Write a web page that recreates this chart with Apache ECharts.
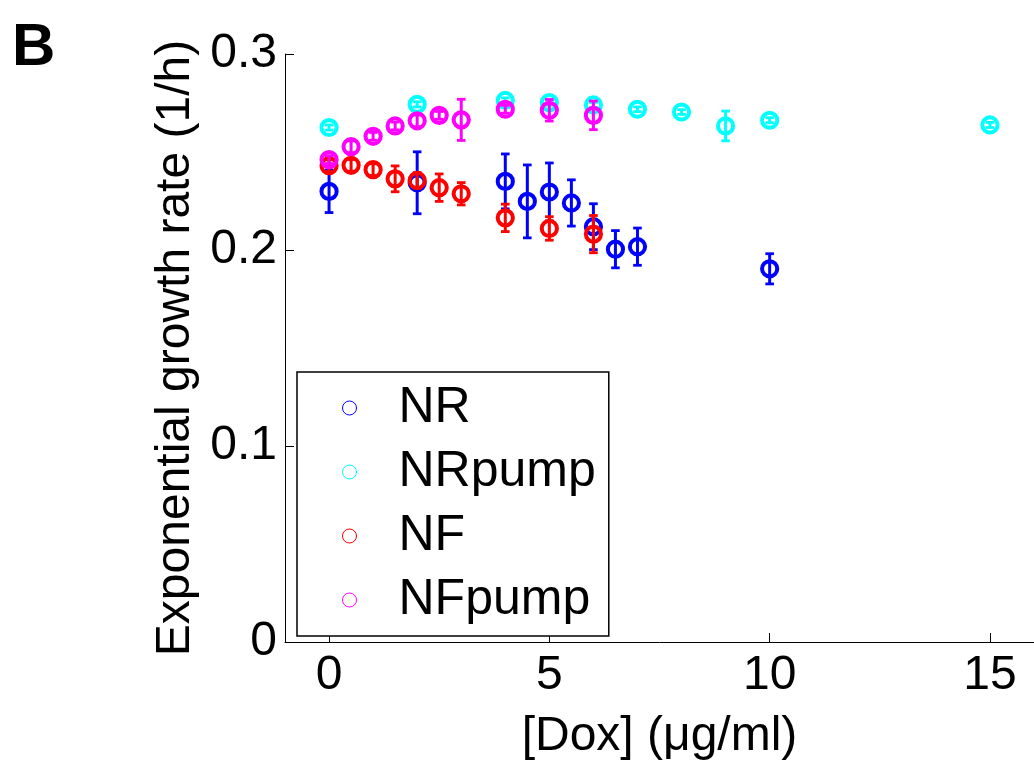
<!DOCTYPE html>
<html>
<head>
<meta charset="utf-8">
<script src="https://cdn.jsdelivr.net/npm/echarts@6/dist/echarts.min.js"></script>
<style>html,body{margin:0;padding:0;background:#fff}#c{width:1034px;height:766px}</style>
</head>
<body>
<div id="c"></div>
<script>
// ---- data: [dox, growth rate, error] ----
const seriesNames = ['NR', 'NRpump', 'NF', 'NFpump'];
const seriesColors = ['#0000ff', '#00ffff', '#ff0000', '#ff00ff'];

const NR_x   = [0, 2, 4, 4.5, 5, 5.5, 6, 6.5, 7, 10];
const NR_y   = [0.2299, 0.2343, 0.2350, 0.2248, 0.2296, 0.2240, 0.2119, 0.2004, 0.2017, 0.1904];
const NR_err = [0.0108, 0.0158, 0.0140, 0.0186, 0.0148, 0.0118, 0.0117, 0.0095, 0.0095, 0.0077];

const NRpump_x   = [0, 2, 4, 5, 6, 7, 8, 9, 10, 15];
const NRpump_y   = [0.2625, 0.2743, 0.2763, 0.2752, 0.2740, 0.2718, 0.2704, 0.2633, 0.2662, 0.2638];
const NRpump_err = [0.0013, 0.0013, 0.0013, 0.0013, 0.0013, 0.0012, 0.0012, 0.0076, 0.0013, 0.0013];

const NF_x   = [0, 0.5, 1, 1.5, 2, 2.5, 3, 4, 5, 6];
const NF_y   = [0.2430, 0.2432, 0.2410, 0.2363, 0.2355, 0.2318, 0.2287, 0.2164, 0.2110, 0.2081];
const NF_err = [0.0030, 0.0030, 0.0030, 0.0066, 0.0040, 0.0070, 0.0057, 0.0070, 0.0060, 0.0095];

const NFpump_x   = [0, 0.5, 1, 1.5, 2, 2.5, 3, 4, 5, 6];
const NFpump_y   = [0.2461, 0.2527, 0.2580, 0.2633, 0.2659, 0.2687, 0.2664, 0.2718, 0.2713, 0.2687];
const NFpump_err = [0.0020, 0.0030, 0.0020, 0.0020, 0.0030, 0.0020, 0.0105, 0.0020, 0.0055, 0.0073];

const xTicks = [0, 5, 10, 15];
const yTicks = [0, 0.1, 0.2, 0.3];
const xTitle = '[Dox] (\u03bcg/ml)';
const yTitle = 'Exponential growth rate (1/h)';
const panelLabel = 'B';

const groups = [
  [NR_x, NR_y, NR_err],
  [NRpump_x, NRpump_y, NRpump_err],
  [NF_x, NF_y, NF_err],
  [NFpump_x, NFpump_y, NFpump_err]
];

const FONT = 'Liberation Sans, Arial, Helvetica, sans-serif';

function renderItem(params, api) {
  const x = api.value(0), y = api.value(1), e = api.value(2);
  const c = api.coord([x, y]);
  const hi = api.coord([x, y + e]);
  const lo = api.coord([x, y - e]);
  const color = api.visual('color');
  const capHalf = 4.3;
  const vs = { stroke: color, lineWidth: 3 };
  const cs = { stroke: color, lineWidth: 2.8 };
  return {
    type: 'group',
    children: [
      { type: 'line', shape: { x1: c[0], y1: hi[1], x2: c[0], y2: lo[1] }, style: vs },
      { type: 'line', shape: { x1: c[0] - capHalf, y1: hi[1], x2: c[0] + capHalf, y2: hi[1] }, style: cs },
      { type: 'line', shape: { x1: c[0] - capHalf, y1: lo[1], x2: c[0] + capHalf, y2: lo[1] }, style: cs },
      { type: 'circle', shape: { cx: c[0], cy: c[1], r: 7.6 }, style: { fill: 'none', stroke: color, lineWidth: 4 } }
    ]
  };
}

const series = groups.map((g, i) => ({
  type: 'custom',
  name: seriesNames[i],
  renderItem: renderItem,
  itemStyle: { color: seriesColors[i] },
  encode: { x: 0, y: 1 },
  data: g[0].map((xv, k) => [xv, g[1][k], g[2][k]]),
  clip: false,
  z: 2 + i
}));

const chart = echarts.init(document.getElementById('c'), null, { renderer: 'canvas' });
chart.setOption({
  animation: false,
  backgroundColor: '#fff',
  textStyle: { fontFamily: FONT },
  grid: { left: 285, right: 0, top: 54, bottom: 120, containLabel: false },
  graphic: [{
    type: 'text', left: 12, top: 18,
    style: { text: panelLabel, font: 'bold 60px ' + FONT, fill: '#000' }
  }],
  xAxis: {
    type: 'value', min: -1, max: 16,
    name: xTitle, nameLocation: 'middle', nameGap: 71,
    nameTextStyle: { fontSize: 48, color: '#000', fontFamily: FONT },
    axisLine: { show: true, onZero: false, lineStyle: { color: '#000', width: 1 } },
    axisTick: { show: true, inside: true, length: 9, customValues: xTicks, lineStyle: { color: '#000' } },
    axisLabel: { customValues: xTicks, fontSize: 48, color: '#000', margin: 10, fontFamily: FONT },
    splitLine: { show: false }
  },
  yAxis: {
    type: 'value', min: 0, max: 0.3,
    name: yTitle, nameLocation: 'middle', nameGap: 82, nameRotate: 90,
    nameTextStyle: { fontSize: 48, color: '#000', fontFamily: FONT },
    axisLine: { show: true, onZero: false, lineStyle: { color: '#000', width: 1 } },
    axisTick: { show: true, inside: true, length: 9, customValues: yTicks, lineStyle: { color: '#000' } },
    axisLabel: { customValues: yTicks, fontSize: 48, color: '#000', margin: 8, fontFamily: FONT,
      formatter: v => String(+v.toFixed(1)) },
    splitLine: { show: false }
  },
  legend: {
    orient: 'vertical', left: 297, top: 372,
    backgroundColor: '#fff', borderColor: '#000', borderWidth: 1.5,
    padding: [11, 13, 11, 45],
    itemWidth: 14, itemHeight: 14, itemGap: 14,
    textStyle: { fontSize: 50, lineHeight: 50, color: '#000', fontFamily: FONT, padding: [0, 0, 0, 37] },
    data: seriesNames.map((n, i) => ({
      name: n, icon: 'circle',
      itemStyle: { color: '#fff', borderColor: seriesColors[i], borderWidth: 1 }
    }))
  },
  series: series
});
</script>
</body>
</html>
